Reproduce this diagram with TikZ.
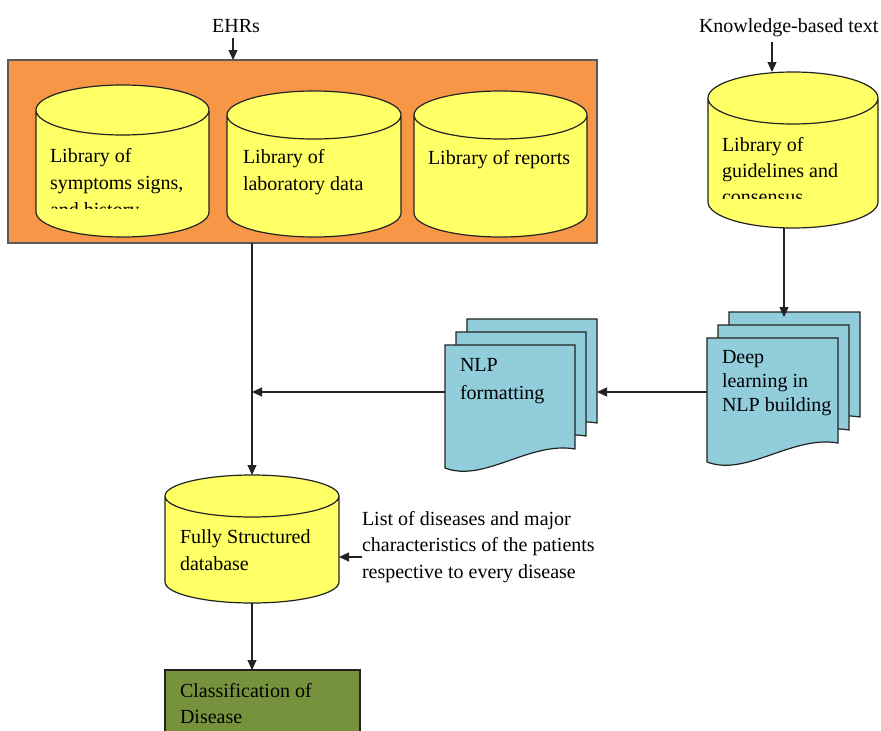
\documentclass[tikz,border=0pt]{standalone}
\usepackage{fontspec}
\setmainfont{Liberation Serif}
\usetikzlibrary{arrows.meta,calc}
\definecolor{boxorange}{RGB}{247,150,70}
\definecolor{cylyellow}{RGB}{255,255,102}
\definecolor{docblue}{RGB}{146,205,220}
\definecolor{boxgreen}{RGB}{118,146,60}
\definecolor{edge}{RGB}{35,35,35}
\newcommand\drawcyl[2]{%
  \path[cylstyle] let \p1=(#1.north west), \p2=(#1.south east), \n1={(\x2-\x1)/2} in
    (\x1,{\y1-#2pt}) -- (\x1,{\y2+#2pt})
    arc[start angle=180,end angle=360,x radius=\n1,y radius=#2pt]
    -- (\x2,{\y1-#2pt})
    arc[start angle=0,end angle=180,x radius=\n1,y radius=#2pt] -- cycle
    (\x1,{\y1-#2pt}) arc[start angle=180,end angle=360,x radius=\n1,y radius=#2pt];}
\newcommand\drawdoc[1]{%
  \path[docstyle] let \p1=(#1.north west), \p2=(#1.south east), \n1={\x2-\x1} in
    (\x1,\y1) -- (\x2,\y1) -- (\x2,\y2)
    .. controls ({\x1+0.65*\n1},{\y2+8pt}) and ({\x1+0.3*\n1},{\y2-34pt}) .. (\x1,{\y2-19pt}) -- cycle;}
\begin{document}
\begin{tikzpicture}[x=1pt,y=-1pt,
  arr/.style={draw=edge, line width=1.2pt, -{Triangle[length=10pt,width=9pt]}},
  area/.style={shape=rectangle, inner sep=0pt, outer sep=0pt},
  txt/.style={inner sep=0pt, outer sep=0pt, align=left, anchor=north west, font=\fontsize{20}{#1}\selectfont, text=black},
  lbl/.style={inner sep=0pt, outer sep=0pt, font=\fontsize{20}{24}\selectfont, text=black},
  cylstyle/.style={fill=cylyellow, draw=edge, line width=1.2pt},
  docstyle/.style={fill=docblue, draw=edge, line width=1.2pt}]
\useasboundingbox (0,0) rectangle (881,731);
\clip (0,0) rectangle (881,731);
\fill[white] (0,0) rectangle (881,731);

% helper coordinates for connector positions
\coordinate (ehrx) at (233,0);
\coordinate (kx) at (772,0);
\coordinate (kx2) at (784,0);
\coordinate (midline) at (0,392);
\coordinate (listy) at (0,557);

% EHR container
\node[area, fill=boxorange, draw=black!65, line width=1.2pt, minimum width=589pt, minimum height=183pt] (ehrbox) at (302.5,151.5) {};

% cylinders
\node[area, minimum width=173pt, minimum height=152pt] (c1) at (122.5,161) {};
\node[area, minimum width=174pt, minimum height=146pt] (c2) at (314,164) {};
\node[area, minimum width=173pt, minimum height=146pt] (c3) at (500.5,164) {};
\node[area, minimum width=170pt, minimum height=156pt] (c4) at (793,150) {};
\node[area, minimum width=174pt, minimum height=128pt] (c5) at (252,539) {};
\drawcyl{c1}{25}
\drawcyl{c2}{24}
\drawcyl{c3}{24}
\drawcyl{c4}{26}
\drawcyl{c5}{21}

% document stacks
\node[area, minimum width=130pt, minimum height=104pt] (nlpb) at (532,371) {};
\node[area, minimum width=130pt, minimum height=104pt] (nlpm) at (521,384) {};
\node[area, minimum width=130pt, minimum height=104pt] (nlpf) at (510,397) {};
\node[area, minimum width=131pt, minimum height=105pt] (dpb) at (794.5,364.5) {};
\node[area, minimum width=131pt, minimum height=105pt] (dpm) at (783.5,377.5) {};
\node[area, minimum width=131pt, minimum height=105pt] (dpf) at (772.5,390.5) {};
\drawdoc{nlpb}
\drawdoc{nlpm}
\drawdoc{nlpf}
\drawdoc{dpb}
\drawdoc{dpm}
\drawdoc{dpf}

% classification box
\node[area, fill=boxgreen, draw=edge, line width=1.2pt, minimum width=195pt, minimum height=75pt] (green) at (262.5,707.5) {};

% texts
\node[lbl, anchor=base] (ehrs) at (236,32) {EHRs};
\node[lbl, anchor=base west] (ktext) at (699,32) {Knowledge-based text};
\begin{scope}
  \clip (0,0) rectangle (881,208.5);
  \node[txt=27] (t1) at (50,143.1) {\strut Library of\\symptoms signs,\\and history};
\end{scope}
\node[txt=27] (t2) at (243,144.1) {\strut Library of\\laboratory data};
\node[txt=27] (t3) at (428,145.1) {\strut Library of reports};
\begin{scope}
  \clip (0,0) rectangle (881,198);
  \node[txt=26] (t4) at (722,132.8) {\strut Library of\\guidelines and\\consensus};
\end{scope}
\node[txt=28] (t5) at (460,351.4) {\strut NLP\\formatting};
\node[txt=24] (t6) at (722,346.2) {\strut Deep\\learning in\\NLP building};
\node[txt=27] (t7) at (180,524.1) {\strut Fully Structured\\database};
\node[txt=26.5] (listtxt) at (362,506.45) {\strut List of diseases and major\\characteristics of the patients\\respective to every disease};
\node[txt=26] (t8) at (180,678.8) {\strut Classification of\\Disease};

% connectors
\draw[arr] ($(ehrs.south -| ehrx)+(0,6)$) -- (ehrx |- ehrbox.north);
\draw[arr] ($(ktext.south -| kx)+(0,6)$) -- (kx |- c4.north);
\draw[arr] (c4.south -| kx2) -- ($(dpb.north -| kx2)+(0,5)$);
\draw[arr] (dpf.west |- midline) -- (nlpb.east |- midline);
\draw[arr] (nlpf.west |- midline) -- (c5.north |- midline);
\draw[arr] (c5.north |- ehrbox.south) -- (c5.north);
\draw[arr] (listtxt.west |- listy) -- (c5.east |- listy);
\draw[arr] (c5.south) -- (c5.south |- green.north);
\end{tikzpicture}
\end{document}
